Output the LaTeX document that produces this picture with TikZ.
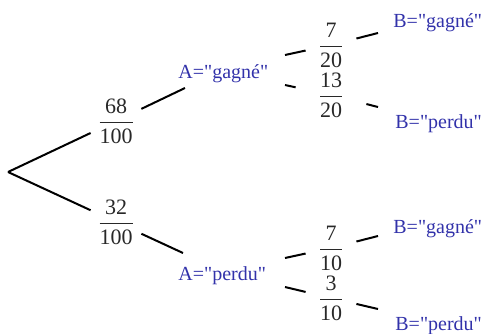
\documentclass[tikz,border=0pt]{standalone}
\usepackage{amsmath}
\usepackage{fontspec}
\setmainfont{Liberation Serif}[Ligatures=TeXOff]
\definecolor{evblue}{RGB}{50,50,170}
\definecolor{probgray}{RGB}{40,40,40}
\tikzset{
  event/.style={anchor=base west, inner sep=0pt, text=evblue},
  proba/.style={inner sep=0pt, minimum width=25pt, minimum height=20pt,
    text=probgray, font=\fontsize{11}{13}\selectfont},
  branch/.style={line width=1pt}
}
\newcommand{\pfrac}[2]{$\dfrac{\text{#1}}{\text{#2}}$}

\begin{document}
\begin{tikzpicture}[x=0.5pt,y=-0.5pt]
\useasboundingbox (0,0) rectangle (486,333);
% root and branch ends
\coordinate (O) at (8,172);
\coordinate (A1in) at (185,88);
\coordinate (A2in) at (183,253);
\coordinate (A1u) at (285,55);
\coordinate (A1d) at (285,85);
\coordinate (A2u) at (285,258);
\coordinate (A2d) at (285,287);
\coordinate (B1in) at (378,33);
\coordinate (B2in) at (378,107);
\coordinate (B3in) at (378,236);
\coordinate (B4in) at (378,309);
% events
\node[event] (A1) at (178,78) {A="gagné"};
\node[event] (A2) at (178,280) {A="perdu"};
\node[event] (B1) at (393,27) {B="gagné"};
\node[event] (B2) at (395,128) {B="perdu"};
\node[event] (B3) at (393,233) {B="gagné"};
\node[event] (B4) at (395,330) {B="perdu"};
% probabilities
\node[proba] (p1) at (116,121) {\pfrac{68}{100}};
\node[proba] (p2) at (116,222) {\pfrac{32}{100}};
\node[proba] (p3) at (331,45) {\pfrac{7}{20}};
\node[proba, minimum width=35pt] (p4) at (331,95) {\pfrac{13}{20}};
\node[proba] (p5) at (331,248) {\pfrac{7}{10}};
\node[proba] (p6) at (331,298) {\pfrac{3}{10}};
% branches
\draw[branch] (O) -- (p1) -- (A1in);
\draw[branch] (O) -- (p2) -- (A2in);
\draw[branch] (A1u) -- (p3) -- (B1in);
\draw[branch] (A1d) -- (p4) -- (B2in);
\draw[branch] (A2u) -- (p5) -- (B3in);
\draw[branch] (A2d) -- (p6) -- (B4in);
\end{tikzpicture}
\end{document}
